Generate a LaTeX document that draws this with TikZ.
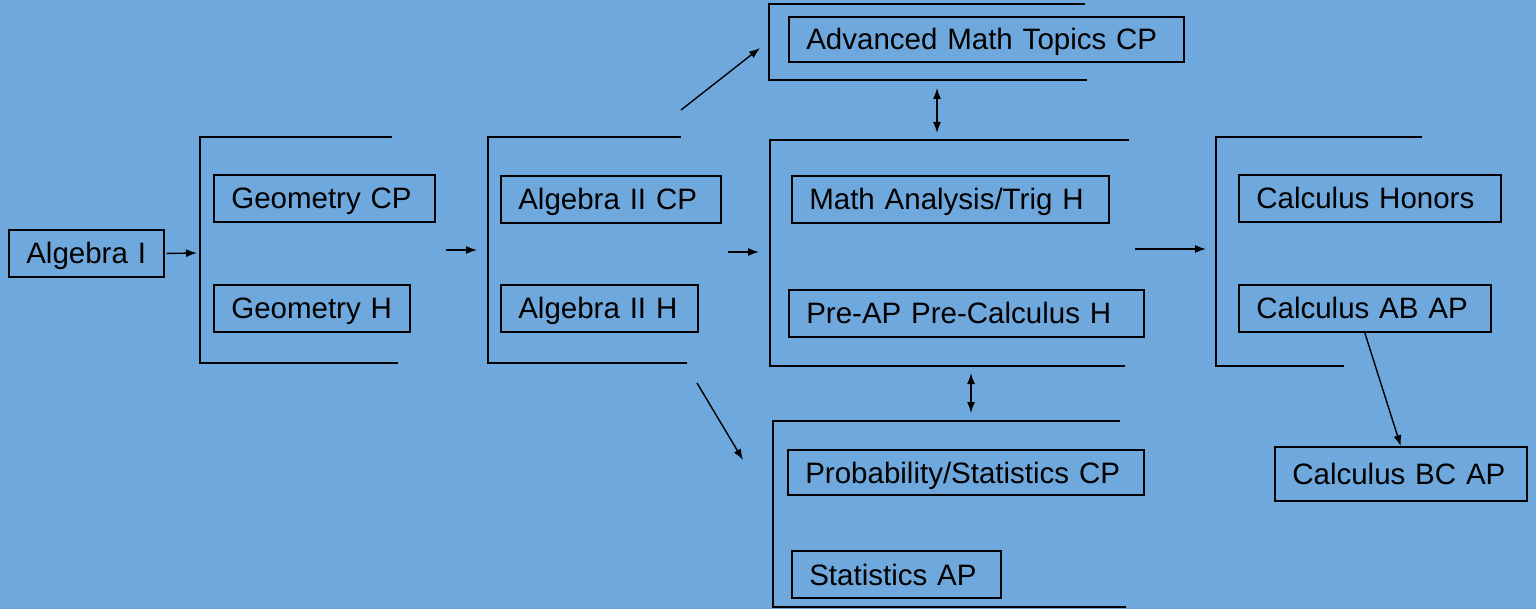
\documentclass[tikz,border=0pt]{standalone}
\usepackage{fontspec}
\setmainfont{Liberation Sans}
\usetikzlibrary{arrows.meta}
\definecolor{sky}{HTML}{6FA8DC}

\begin{document}
\begin{tikzpicture}[>={Latex[length=11pt, width=8pt]}, x=1pt, y=-1pt,
  course/.style={draw, line width=1.6pt, anchor=west, inner xsep=17.5pt,
    inner ysep=0pt, minimum height=47pt, align=left, text height=21pt,
    text depth=0pt, font=\fontsize{29.5}{34}\selectfont},
  bracket/.style={line width=1.6pt},
  link/.style={->, line width=1.4pt}]
  % Background
  \fill[sky] (0,0) rectangle (1536,609);

  % Courses
  \node[course, text width=120pt] (alg1) at (8,253.5) {Algebra I};
  \node[course, text width=186pt] (geocp) at (213,198.5) {Geometry CP};
  \node[course, text width=161pt] (geoh) at (213,308.5) {Geometry H};
  \node[course, text width=185pt] (alg2cp) at (500,199.5) {Algebra II CP};
  \node[course, text width=162pt] (alg2h) at (500,308.5) {Algebra II H};
  \node[course, text width=360pt, minimum height=45pt] (advtop) at (788,39.5)
    {Advanced Math Topics CP};
  \node[course, text width=282pt] (trig) at (791,199.5) {Math Analysis/Trig H};
  \node[course, text width=320pt] (precalc) at (788,313.5) {Pre-AP Pre-Calculus H};
  \node[course, text width=321pt, minimum height=45pt] (probstat) at (787,472.5)
    {Probability/Statistics CP};
  \node[course, text width=174pt] (statap) at (791,574.5) {Statistics AP};
  \node[course, text width=227pt] (calch) at (1238,198.5) {Calculus Honors};
  \node[course, text width=217pt] (calcab) at (1238,308.5) {Calculus AB AP};
  \node[course, text width=217pt, minimum height=54pt] (calcbc) at (1274,474)
    {Calculus BC AP};

  % Brackets round each group
  \foreach \rt/\t/\l/\b/\rb in {392/137/200/363/398, 681/137/488/363/687,
      1085/4/769/80/1087, 1129/140/770/366/1125, 1120/421/773/607/1126,
      1422/137/1216/366/1344}
    \draw[bracket] (\rt,\t) -| (\l,\b) -- (\rb,\b);

  % Arrow ends at the brackets
  \coordinate (geoin) at (197,253);
  \coordinate (geoout) at (446,250);
  \coordinate (alg2in) at (477,250);
  \coordinate (alg2out) at (728,252);
  \coordinate (trigin) at (759,252);
  \coordinate (alg2up) at (681,110);
  \coordinate (advin) at (760,48);
  \coordinate (alg2down) at (697,383);
  \coordinate (statin) at (743,460);
  \coordinate (advbot) at (937,88);
  \coordinate (trigtop) at (937,133);
  \coordinate (trigbot) at (971,373);
  \coordinate (stattop) at (971,413);
  \coordinate (trigout) at (1135,249);
  \coordinate (calcin) at (1206,249);

  % Connectors
  \draw[link, shorten <=2pt] (alg1.east) -- (geoin);
  \draw[link] (geoout) -- (alg2in);
  \draw[link] (alg2out) -- (trigin);
  \draw[link] (alg2up) -- (advin);
  \draw[link] (alg2down) -- (statin);
  \draw[link, <->] (advbot) -- (trigtop);
  \draw[link, <->] (trigbot) -- (stattop);
  \draw[link] (trigout) -- (calcin);
  \draw[link] (calcab.south) -- (calcbc.north);
\end{tikzpicture}
\end{document}
